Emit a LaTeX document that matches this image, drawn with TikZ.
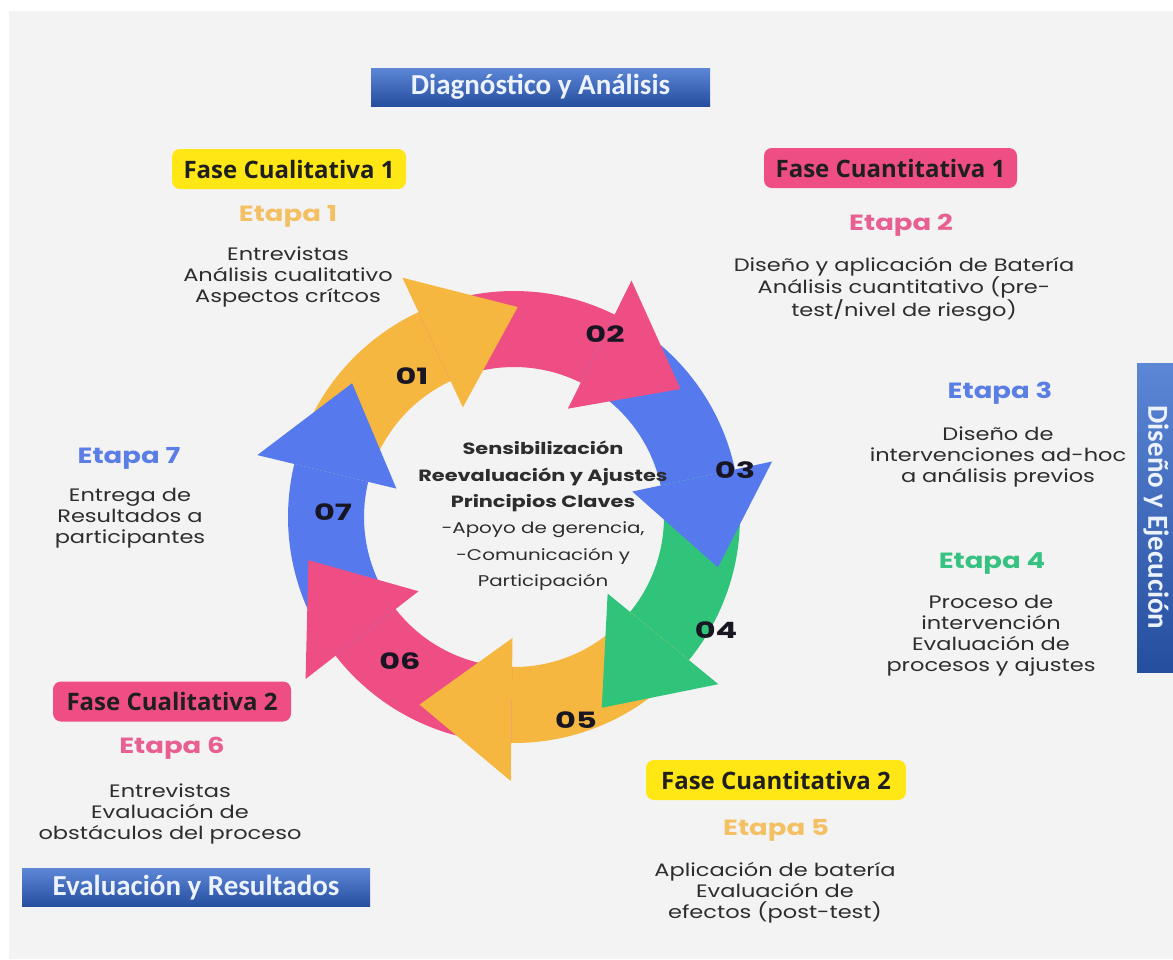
\documentclass[tikz,border=0pt]{standalone}
\usepackage{fontspec}
\setmainfont{Poppins}
\newfontfamily\hdrfont{Carlito}
\newfontfamily\tagfont{Open Sans}
\newfontfamily\widefont[FakeStretch=1.25]{Poppins}
\newfontfamily\numfont[FakeStretch=1.42]{Poppins}
\newfontfamily\ctrfont[FakeStretch=1.28]{Poppins}

\definecolor{bgc}{RGB}{243,243,243}
\definecolor{corange}{RGB}{246,183,64}
\definecolor{cpink}{RGB}{239,78,132}
\definecolor{cblue}{RGB}{86,122,238}
\definecolor{cgreen}{RGB}{47,196,122}
\definecolor{cyellow}{RGB}{255,231,22}
\definecolor{tpink}{RGB}{232,96,146}
\definecolor{torange}{RGB}{244,192,100}
\definecolor{tblue}{RGB}{90,126,230}
\definecolor{tgreen}{RGB}{56,194,130}
\definecolor{txt}{RGB}{45,45,45}
\definecolor{numc}{RGB}{25,22,35}
\definecolor{hdtop}{RGB}{92,134,214}
\definecolor{hdbot}{RGB}{38,78,158}
\definecolor{hdtxt}{RGB}{236,243,255}

\tikzset{
  hdr/.style={minimum height=38, inner sep=0, top color=hdtop, bottom color=hdbot,
    text=hdtxt, font=\hdrfont\bfseries\fontsize{29}{29}\selectfont},
  tag/.style={rounded corners=8, minimum height=40, inner sep=0,
    font=\tagfont\bfseries\fontsize{24}{24}\selectfont, text=black!88},
  etapa/.style={font=\widefont\bfseries\fontsize{22}{22}\selectfont},
  desc/.style={align=center, text=txt, font=\widefont\fontsize{18}{21}\selectfont},
  num/.style={text=numc, font=\numfont\bfseries\fontsize{22.5}{22.5}\selectfont},
}

\begin{document}
\begin{tikzpicture}[x=1pt, y=-1pt]
% page and panel
\fill[white] (0,0) rectangle (1173,959);
\fill[bgc] (9,11) rectangle (1173,959);
\useasboundingbox (0,0) rectangle (1173,959);

% cycle of seven arrows
\begin{scope}[shift={(514,517)}, yscale=-1]
  \foreach \b/\c in {115/corange, 63.57/cpink, 12.14/cblue, -39.29/cgreen,
                     -90.71/corange, -142.14/cpink, -193.57/cblue}{
    \pgfmathsetmacro\e{\b+51.43}
    \fill[\c] (\e:226) arc[start angle=\e, end angle=\b, radius=226]
      -- (\b:150) arc[start angle=\b, end angle=\e, radius=150] -- cycle;
  }
  \foreach \b/\c in {115/corange, 63.57/cpink, 12.14/cblue, -39.29/cgreen,
                     -90.71/corange, -142.14/cpink, -193.57/cblue}{
    \pgfmathsetmacro\t{\b-26}
    \fill[\c] (\b:121) -- (\b:264) -- (\t:210) -- cycle;
  }
\end{scope}

% step numbers
\node[num] (n1) at (412,376) {01};
\node[num] (n2) at (605,334) {02};
\node[num] (n3) at (735,470) {03};
\node[num] (n4) at (716,630) {04};
\node[num] (n5) at (576,720) {05};
\node[num] (n6) at (400,661) {06};
\node[num] (n7) at (333,512) {07};

% centre
\node[align=center, text=txt, font=\ctrfont\fontsize{16.3}{26.4}\selectfont] (core) at (543,516)
  {{\bfseries Sensibilización}\\
   {\bfseries Reevaluación y Ajustes}\\
   {\bfseries Principios Claves}\\
   {\fontsize{15.5}{26.4}\selectfont -Apoyo de gerencia,}\\
   {\fontsize{15.5}{26.4}\selectfont -Comunicación y}\\
   {\fontsize{15.5}{26.4}\selectfont Participación}};

% section headers
\node[hdr, minimum width=339] (h1) at (540.5,87) {Diagnóstico y Análisis};
\node[hdr, minimum width=348] (h2) at (196,887.5) {Evaluación y Resultados};
\node[hdr, minimum width=309, rotate=-90] (h3) at (1156,517.5) {Diseño y Ejecución};

% phase tags
\node[tag, fill=cyellow, minimum width=234] (f1) at (289,169) {Fase Cualitativa 1};
\node[tag, fill=cpink, minimum width=253] (f2) at (890.5,168) {Fase Cuantitativa 1};
\node[tag, fill=cpink, minimum width=238] (f3) at (172,701.5) {Fase Cualitativa 2};
\node[tag, fill=cyellow, minimum width=260] (f4) at (776,780) {Fase Cuantitativa 2};

% stages
\node[etapa, text=torange] (e1) at (288,216) {Etapa 1};
\node[desc] (d1) at (288,277) {Entrevistas\\Análisis cualitativo\\Aspectos crítcos};

\node[etapa, text=tpink] (e2) at (901,225) {Etapa 2};
\node[desc] (d2) at (904,289) {Diseño y aplicación de Batería\\Análisis cuantitativo (pre-\\test/nivel de riesgo)};

\node[etapa, text=tblue] (e3) at (1000,393) {Etapa 3};
\node[desc] (d3) at (998,457) {Diseño de\\intervenciones ad-hoc\\a análisis previos};

\node[etapa, text=tgreen] (e4) at (992,563) {Etapa 4};
\node[desc] (d4) at (991,636) {Proceso de\\intervención\\Evaluación de\\procesos y ajustes};

\node[etapa, text=torange] (e5) at (776,830) {Etapa 5};
\node[desc] (d5) at (775,893) {Aplicación de batería\\Evaluación de\\efectos (post-test)};

\node[etapa, text=tpink] (e6) at (172,748) {Etapa 6};
\node[desc] (d6) at (170,814) {Entrevistas\\Evaluación de\\obstáculos del proceso};

\node[etapa, text=tblue] (e7) at (129,458) {Etapa 7};
\node[desc] (d7) at (130,518) {Entrega de\\Resultados a\\participantes};
\end{tikzpicture}
\end{document}
